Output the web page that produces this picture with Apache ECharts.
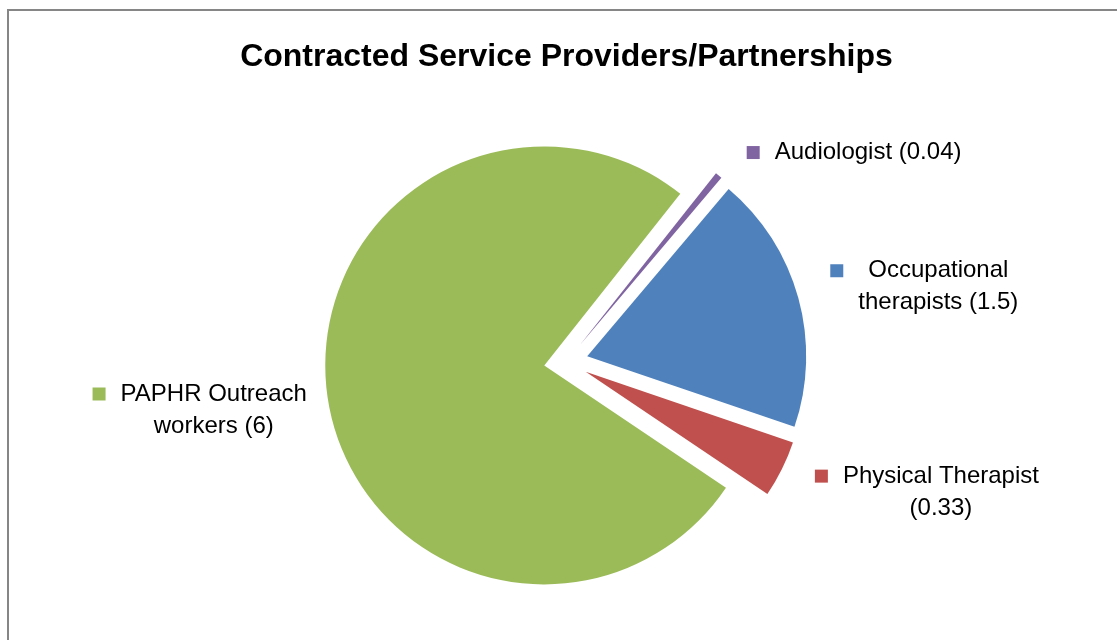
<!DOCTYPE html>
<html><head><meta charset="utf-8">
<script src="https://cdn.jsdelivr.net/npm/echarts@6/dist/echarts.min.js"></script>
<style>
html,body{margin:0;padding:0;background:#fff;overflow:hidden;width:1117px;height:640px;}
#frame{position:absolute;left:7px;top:9px;width:1400px;height:900px;border:2px solid #868686;box-sizing:border-box;}
#main{position:absolute;left:8px;top:0;width:1117px;height:640px;}
</style></head><body>
<div id="frame"></div><div id="main"></div>
<script>
const titleText = 'Contracted Service Providers/Partnerships';
const categories = ['Audiologist', 'Occupational therapists', 'Physical Therapist', 'PAPHR Outreach workers'];
const values = [0.04, 1.5, 0.33, 6];
const labelLines = [
  ['Audiologist (0.04)'],
  ['Occupational', 'therapists (1.5)'],
  ['Physical Therapist', '(0.33)'],
  ['PAPHR Outreach', 'workers (6)']
];
const colors = ['#8064A2', '#4F81BD', '#C0504D', '#9BBB59'];
const labelOffsets = [[28, -23], [32, -11], [33, 23], [-21, 11]];

const FONT = 'Liberation Sans, Arial, sans-serif';
const rich = {
  t: { align: 'center', fontFamily: FONT, fontSize: 24, color: '#000', lineHeight: 32 },
  g: { align: 'left', width: 15, height: 13 },
  sp: { align: 'left', width: 28, height: 13 }
};
colors.forEach((c, i) => { rich['sq' + i] = { align: 'left', width: 13, height: 13, backgroundColor: c }; });

const chart = echarts.init(document.getElementById('main'), null, { renderer: 'canvas' });
chart.setOption({
  animation: false,
  title: {
    text: titleText, left: 'center', top: 36,
    textStyle: { fontFamily: FONT, fontWeight: 'bold', fontSize: 32, color: '#000' }
  },
  series: [{
    type: 'pie',
    center: [558, 362],
    radius: 219,
    startAngle: 51.6,
    clockwise: true,
    selectedMode: 'multiple',
    selectedOffset: 22,
    avoidLabelOverlap: false,
    emphasis: { disabled: true },
    select: { itemStyle: { borderWidth: 0 }, label: { color: '#000' } },
    itemStyle: { borderWidth: 0 },
    label: {
      show: true, position: 'outside', distanceToLabelLine: 0,
      fontFamily: FONT, fontSize: 24, color: '#000', lineHeight: 32,
      formatter: function (p) {
        const i = p.dataIndex, L = labelLines[i];
        let s = '{sq' + i + '|}{g|}{t|' + L[0] + '}';
        for (let k = 1; k < L.length; k++) s += '\n{sp|}{t|' + L[k] + '}';
        return s;
      },
      rich: rich
    },
    labelLine: { show: false, length: 0, length2: 0 },
    labelLayout: function (p) {
      const o = labelOffsets[p.dataIndex];
      return { dx: o[0], dy: o[1] };
    },
    data: categories.map((n, i) => ({ name: n, value: values[i], selected: true, itemStyle: { color: colors[i] } }))
  }]
});
</script>
</body></html>
